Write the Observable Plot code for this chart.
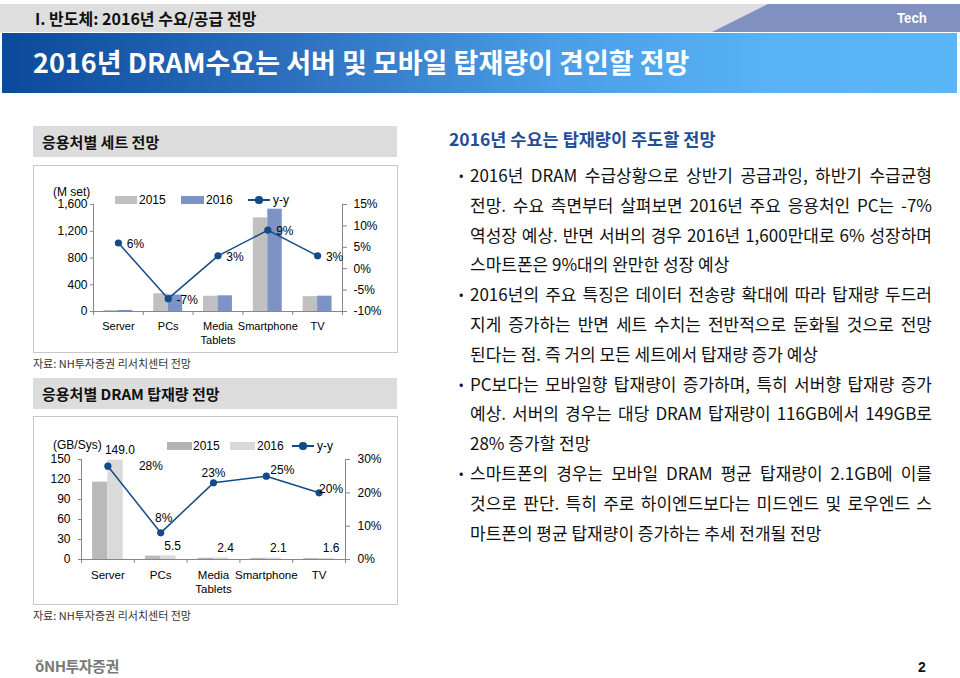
<!DOCTYPE html>
<html><head><meta charset="utf-8">
<script src="https://cdn.jsdelivr.net/npm/d3@7"></script>
<script src="https://cdn.jsdelivr.net/npm/@observablehq/plot@0.6"></script>
<style>
body{margin:0;width:960px;height:678px;position:relative;background:#fff;font-family:"Noto Sans CJK KR",sans-serif;overflow:hidden}
.abs{position:absolute}
.graybar{position:absolute;left:0;top:4px;width:960px;height:28px;background:#dedede}
.techbar{position:absolute;left:712px;top:4px;width:248px;height:28px;background:#7f90c1;clip-path:polygon(56px 0,100% 0,100% 100%,0 100%)}
.bluebar{position:absolute;left:2px;top:33px;width:955px;height:60px;background:linear-gradient(to right,#0b4a9b 0%,#2d6fbe 30%,#4a9de6 58%,#58b2f5 80%,#5bb6f8 100%)}
.sec{position:absolute;left:33px;width:364px;height:31px;background:#dcdcdc;font-weight:700;font-size:15px;line-height:31px;padding-left:9px;box-sizing:border-box;color:#111}
.box{position:absolute;left:33px;width:365px;border:1px solid #c8c8c8;box-sizing:border-box}
.src{position:absolute;left:33px;font-size:11px;color:#333;line-height:14px}
.leg{position:absolute;font-family:"Liberation Sans",Arial,sans-serif;font-size:12px;line-height:14px;color:#000}
.body{position:absolute;left:470px;top:160px;width:462px;font-size:17px;line-height:29.8px;color:#111}
.ln{white-space:nowrap;position:relative}
.ln.j{text-align:justify;text-align-last:justify}
.ln .b{position:absolute;left:-11px;font-size:13px}
</style></head><body>
<div class="graybar"></div>
<div class="techbar"></div>
<div class="abs" style="left:35px;top:6px;font-size:16px;font-weight:700;color:#111;line-height:24px">I. 반도체: 2016년 수요/공급 전망</div>
<div class="abs" style="left:897px;top:7px;font-size:15px;font-weight:700;color:#fff;line-height:22px;font-family:'Liberation Sans',Arial;transform:scaleX(0.88);transform-origin:left">Tech</div>
<div class="bluebar"></div>
<div class="abs" style="left:33px;top:45px;font-size:27px;font-weight:700;color:#fff;line-height:34px">2016년 DRAM수요는 서버 및 모바일 탑재량이 견인할 전망</div>

<div class="sec" style="top:126px">응용처별 세트 전망</div>
<div class="box" style="top:165px;height:188px"></div>
<div id="chart1" class="abs" style="left:33px;top:165px"></div>
<div class="src" style="top:356px">자료: NH투자증권 리서치센터 전망</div>

<div class="sec" style="top:378px">응용처별 DRAM 탑재량 전망</div>
<div class="box" style="top:416px;height:189px"></div>
<div id="chart2" class="abs" style="left:33px;top:416px"></div>
<div class="src" style="top:608px">자료: NH투자증권 리서치센터 전망</div>

<div class="abs" style="left:449px;top:126px;font-size:17.5px;font-weight:700;color:#1f4e96;line-height:26px">2016년 수요는 탑재량이 주도할 전망</div>
<div class="body" id="body"></div>

<div class="abs" style="left:35px;top:656px;font-size:15px;font-weight:700;color:#7a7a7a;line-height:20px;letter-spacing:-0.5px">ŏNH투자증권</div>
<div class="abs" style="left:918px;top:657px;font-size:14px;font-weight:700;color:#111;line-height:20px;font-family:'Liberation Sans',Arial">2</div>

<script>
// ---------- data ----------
const categories = ["Server", "PCs", "Media\nTablets", "Smartphone", "TV"];
const years = ["2015", "2016"];
const yoyLabel = "y-y";

const sets2015 = [15.1, 265, 228, 1400, 222];
const sets2016 = [16.0, 246, 235, 1530, 229];
const setsYoY = [6, -7, 3, 9, 3];
const setsTicksLeft = [0, 400, 800, 1200, 1600];
const setsTicksRight = [-10, -5, 0, 5, 10, 15];
const setsUnit = "(M set)";

const dram2015 = [116, 5.1, 1.95, 1.68, 1.33];
const dram2016 = [149.0, 5.5, 2.4, 2.1, 1.6];
const dramYoY = [28, 8, 23, 25, 20];
const dramTicksLeft = [0, 30, 60, 90, 120, 150];
const dramTicksRight = [0, 10, 20, 30];
const dramUnit = "(GB/Sys)";

const bodyParas = [
  ["2016년 DRAM 수급상황으로 상반기 공급과잉, 하반기 수급균형",
   "전망. 수요 측면부터 살펴보면 2016년 주요 응용처인 PC는 -7%",
   "역성장 예상. 반면 서버의 경우 2016년 1,600만대로 6% 성장하며",
   "스마트폰은 9%대의 완만한 성장 예상"],
  ["2016년의 주요 특징은 데이터 전송량 확대에 따라 탑재량 두드러",
   "지게 증가하는 반면 세트 수치는 전반적으로 둔화될 것으로 전망",
   "된다는 점. 즉 거의 모든 세트에서 탑재량 증가 예상"],
  ["PC보다는 모바일향 탑재량이 증가하며, 특히 서버향 탑재량 증가",
   "예상. 서버의 경우는 대당 DRAM 탑재량이 116GB에서 149GB로",
   "28% 증가할 전망"],
  ["스마트폰의 경우는 모바일 DRAM 평균 탑재량이 2.1GB에 이를",
   "것으로 판단. 특히 주로 하이엔드보다는 미드엔드 및 로우엔드 스",
   "마트폰의 평균 탑재량이 증가하는 추세 전개될 전망"]
];

// ---------- body text ----------
const body = document.getElementById("body");
bodyParas.forEach(p => p.forEach((t, i) => {
  const d = document.createElement("div");
  d.className = "ln" + (i < p.length - 1 ? " j" : "");
  if (i === 0) { const b = document.createElement("span"); b.className = "b"; b.textContent = "•"; d.appendChild(b); }
  d.appendChild(document.createTextNode(t));
  body.appendChild(d);
}));

// ---------- chart builder ----------
const axisColor = "#868686";
const lineColor = "#154a88";

function buildChart(cfg) {
  const {v15, v16, yoy, ticksL, ticksR, yMax, pMin, pMax, c15, c16, width, height,
         mL, mR, mT, mB, fmtL, pctOffsets, valueLabels, tickPadR} = cfg;
  const toLeft = p => (p - pMin) / (pMax - pMin) * yMax;
  const fromLeft = v => Math.round(v / yMax * (pMax - pMin) + pMin);
  const rows = categories.map((c, i) => ({i, cat: c, v15: v15[i], v16: v16[i], yoy: yoy[i], yy: toLeft(yoy[i])}));
  const bw = 0.29;
  const marks = [
    Plot.rectY(rows, {x1: d => d.i - bw, x2: d => d.i, y: "v15", fill: c15}),
    Plot.rectY(rows, {x1: d => d.i, x2: d => d.i + bw, y: "v16", fill: c16}),
    Plot.ruleY([0], {stroke: axisColor}),
    Plot.ruleX([-0.5, categories.length - 0.5], {y1: 0, y2: yMax, stroke: axisColor}),
    Plot.axisY({anchor: "left", ticks: ticksL, tickFormat: fmtL, tickSize: 3, tickPadding: cfg.tickPadL, stroke: axisColor, fill: "#000", label: null}),
    Plot.axisY({anchor: "right", ticks: ticksR.map(toLeft), tickFormat: v => fromLeft(v) + "%", tickSize: 4, tickPadding: tickPadR, stroke: axisColor, fill: "#000", label: null}),
    Plot.axisX({ticks: d3.range(-0.5, categories.length, 1), tickFormat: () => "", tickSize: 4, stroke: axisColor, label: null}),
    Plot.text(rows, {x: "i", text: "cat", frameAnchor: "bottom", lineAnchor: "top", dy: 9, lineHeight: 1.25, fill: "#000", fontSize: cfg.catFont}),
    Plot.line(rows, {x: "i", y: "yy", stroke: lineColor, strokeWidth: 1.5}),
    Plot.dot(rows, {x: "i", y: "yy", r: 3.6, fill: lineColor, stroke: "none"})
  ];
  rows.forEach((r, k) => {
    marks.push(Plot.text([r], {x: "i", y: "yy", text: d => d.yoy + "%", dx: pctOffsets[k][0], dy: pctOffsets[k][1], fill: "#000"}));
  });
  if (valueLabels) {
    marks.push(Plot.text(rows, {x: "i", y: "v16", text: d => d3.format(".1f")(d.v16), dx: 12, dy: -10, fill: "#000"}));
  }
  return Plot.plot({
    width, height, marginLeft: mL, marginRight: mR, marginTop: mT, marginBottom: mB,
    x: {domain: [-0.5, categories.length - 0.5], label: null},
    y: {domain: [0, yMax], label: null},
    style: {fontFamily: "'Liberation Sans', Arial, sans-serif", fontSize: "12px", color: "#000", background: "transparent", overflow: "visible"},
    marks
  });
}

function addLegend(host, yC, items, unit, unitPos) {
  const u = document.createElement("div");
  u.className = "leg"; u.style.left = unitPos[0] + "px"; u.style.top = (unitPos[1] - 7) + "px"; u.textContent = unit;
  host.appendChild(u);
  items.forEach(it => {
    if (it.type === "rect") {
      const r = document.createElement("div");
      r.className = "abs"; Object.assign(r.style, {left: it.x + "px", top: (yC - 4) + "px", width: it.w + "px", height: "8px", background: it.color});
      host.appendChild(r);
    } else {
      const l = document.createElement("div");
      l.className = "abs"; Object.assign(l.style, {left: it.x + "px", top: (yC - 1) + "px", width: it.w + "px", height: "1.6px", background: lineColor});
      host.appendChild(l);
      const c = document.createElement("div");
      c.className = "abs"; Object.assign(c.style, {left: (it.x + it.w / 2 - 3.6) + "px", top: (yC - 3.6) + "px", width: "7.2px", height: "7.2px", borderRadius: "50%", background: lineColor});
      host.appendChild(c);
    }
    const t = document.createElement("div");
    t.className = "leg"; t.style.left = it.tx + "px"; t.style.top = (yC - 7) + "px"; t.textContent = it.label;
    host.appendChild(t);
  });
}

// chart 1: sets
document.getElementById("chart1").appendChild(buildChart({
  v15: sets2015, v16: sets2016, yoy: setsYoY, ticksL: setsTicksLeft, ticksR: setsTicksRight,
  yMax: 1600, pMin: -10, pMax: 15, c15: "#c0c0c0", c16: "#7d93c6",
  width: 365, height: 188, mL: 60, mR: 56, mT: 39, mB: 42, fmtL: d3.format(","), tickPadL: 3, tickPadR: 7,
  pctOffsets: [[17, 1], [19, 1], [17, 1], [17, 1], [17, 1]], valueLabels: false, catFont: 11
}));
addLegend(document.body, 200, [
  {type: "rect", x: 115, w: 22, color: "#c0c0c0", tx: 139, label: years[0]},
  {type: "rect", x: 181, w: 23, color: "#7d93c6", tx: 206, label: years[1]},
  {type: "line", x: 248, w: 22, tx: 273, label: yoyLabel}
], setsUnit, [53, 192]);

// chart 2: DRAM content
document.getElementById("chart2").appendChild(buildChart({
  v15: dram2015, v16: dram2016, yoy: dramYoY, ticksL: dramTicksLeft, ticksR: dramTicksRight,
  yMax: 150, pMin: 0, pMax: 30, c15: "#b9b9b9", c16: "#dadada",
  width: 365, height: 189, mL: 48, mR: 53, mT: 43, mB: 46, fmtL: d3.format("d"), tickPadL: 8, tickPadR: 8,
  pctOffsets: [[43, 0], [3, -15], [0, -10], [16, -6], [12, -4]], valueLabels: true, catFont: 11.5
}));
addLegend(document.body, 446, [
  {type: "rect", x: 167, w: 25, color: "#b3b3b3", tx: 193, label: years[0]},
  {type: "rect", x: 230, w: 25, color: "#d9d9d9", tx: 257, label: years[1]},
  {type: "line", x: 292, w: 22, tx: 317, label: yoyLabel}
], dramUnit, [53, 445]);
</script>
</body></html>
